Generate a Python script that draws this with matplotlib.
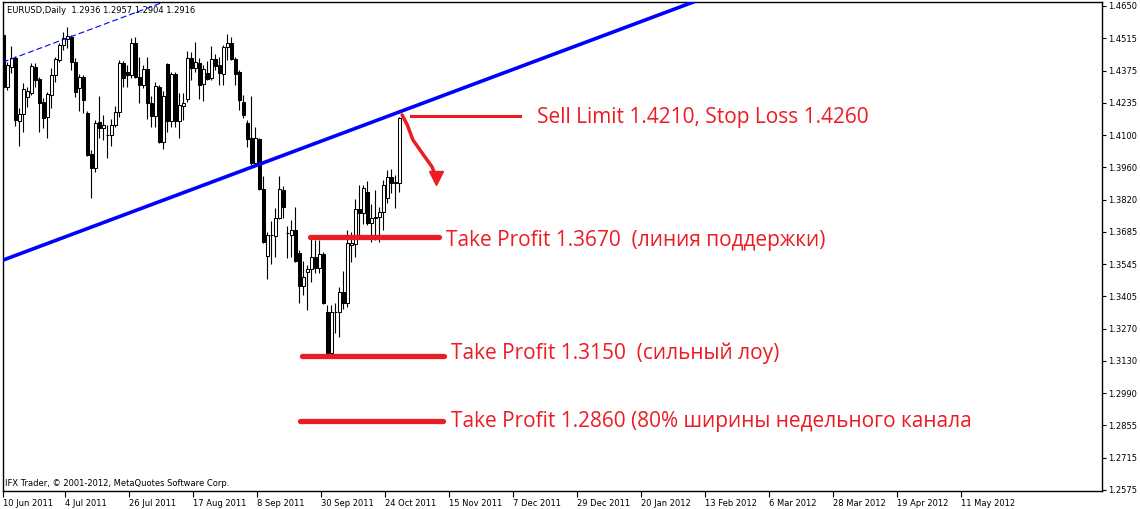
import matplotlib.pyplot as plt
import numpy as np

# EURUSD Daily, candles (10 Jun 2011 .. end Oct 2011)
opens = [1.4526, 1.4303, 1.4388, 1.4427, 1.4157, 1.4187, 1.4260, 1.4277, 1.4388, 1.4337,
         1.4238, 1.4174, 1.4268, 1.4354, 1.4418, 1.4483, 1.4508, 1.4517, 1.4410, 1.4298,
         1.4346, 1.4191, 1.4016, 1.3956, 1.4153, 1.4127, 1.4097, 1.4097, 1.4140, 1.4196,
         1.4406, 1.4367, 1.4354, 1.4491, 1.4346, 1.4311, 1.4380, 1.4234, 1.4178, 1.4303,
         1.4067, 1.4401, 1.4157, 1.4358, 1.4157, 1.4221, 1.4251, 1.4427, 1.4384, 1.4406,
         1.4316, 1.4363, 1.4341, 1.4423, 1.4397, 1.4358, 1.4474, 1.4491, 1.4423, 1.4367,
         1.4238, 1.4149, 1.4084, 1.3977, 1.4080, 1.3865, 1.3578, 1.3668, 1.3663, 1.3741,
         1.3861, 1.3676, 1.3668, 1.3689, 1.3590, 1.3449, 1.3509, 1.3522, 1.3573, 1.3526,
         1.3586, 1.3338, 1.3162, 1.3338, 1.3338, 1.3423, 1.3376, 1.3625, 1.3629, 1.3779,
         1.3762, 1.3852, 1.3719, 1.3741, 1.3745, 1.3767, 1.3827, 1.3917, 1.3891, 1.3891]
highs = [1.4543, 1.4410, 1.4478, 1.4436, 1.4213, 1.4320, 1.4303, 1.4406, 1.4406, 1.4346,
         1.4256, 1.4281, 1.4384, 1.4431, 1.4491, 1.4538, 1.4560, 1.4526, 1.4427, 1.4358,
         1.4354, 1.4200, 1.4033, 1.4161, 1.4264, 1.4183, 1.4140, 1.4166, 1.4221, 1.4418,
         1.4414, 1.4397, 1.4513, 1.4517, 1.4431, 1.4397, 1.4431, 1.4264, 1.4324, 1.4311,
         1.4286, 1.4406, 1.4367, 1.4367, 1.4277, 1.4277, 1.4457, 1.4453, 1.4496, 1.4427,
         1.4397, 1.4414, 1.4478, 1.4444, 1.4431, 1.4483, 1.4530, 1.4517, 1.4431, 1.4376,
         1.4268, 1.4161, 1.4264, 1.4131, 1.4084, 1.3921, 1.3681, 1.3728, 1.3784, 1.3921,
         1.3878, 1.3706, 1.3732, 1.3788, 1.3603, 1.3556, 1.3539, 1.3651, 1.3646, 1.3646,
         1.3595, 1.3368, 1.3368, 1.3376, 1.3445, 1.3514, 1.3689, 1.3681, 1.3822, 1.3883,
         1.3883, 1.3900, 1.3801, 1.3861, 1.3788, 1.3904, 1.3947, 1.3951, 1.3926, 1.4174]
lows = [1.4298, 1.4290, 1.4363, 1.4136, 1.4050, 1.4110, 1.4217, 1.4268, 1.4303, 1.4110,
        1.4127, 1.4084, 1.4213, 1.4324, 1.4410, 1.4461, 1.4470, 1.4376, 1.4260, 1.4200,
        1.4191, 1.4007, 1.3827, 1.3938, 1.4084, 1.4076, 1.3999, 1.4050, 1.4131, 1.4174,
        1.4303, 1.4303, 1.4341, 1.4341, 1.4234, 1.4298, 1.4166, 1.4131, 1.4131, 1.4063,
        1.4037, 1.4110, 1.4131, 1.4131, 1.4084, 1.4161, 1.4238, 1.4333, 1.4367, 1.4251,
        1.4243, 1.4333, 1.4333, 1.4376, 1.4311, 1.4311, 1.4418, 1.4418, 1.4311, 1.4204,
        1.4170, 1.4046, 1.3969, 1.3964, 1.3861, 1.3633, 1.3479, 1.3543, 1.3573, 1.3736,
        1.3741, 1.3569, 1.3573, 1.3552, 1.3376, 1.3411, 1.3346, 1.3466, 1.3505, 1.3505,
        1.3372, 1.3157, 1.3157, 1.3247, 1.3230, 1.3351, 1.3359, 1.3552, 1.3573, 1.3668,
        1.3715, 1.3711, 1.3638, 1.3646, 1.3638, 1.3689, 1.3805, 1.3848, 1.3784, 1.3852]
closes = [1.4303, 1.4397, 1.4427, 1.4161, 1.4187, 1.4294, 1.4286, 1.4393, 1.4333, 1.4234,
          1.4170, 1.4273, 1.4354, 1.4423, 1.4483, 1.4513, 1.4521, 1.4410, 1.4281, 1.4346,
          1.4247, 1.4012, 1.3956, 1.4149, 1.4127, 1.4140, 1.4097, 1.4140, 1.4196, 1.4406,
          1.4341, 1.4354, 1.4491, 1.4346, 1.4311, 1.4380, 1.4234, 1.4178, 1.4307, 1.4067,
          1.4264, 1.4157, 1.4358, 1.4157, 1.4226, 1.4234, 1.4427, 1.4384, 1.4410, 1.4311,
          1.4380, 1.4337, 1.4423, 1.4393, 1.4363, 1.4474, 1.4491, 1.4423, 1.4358, 1.4247,
          1.4183, 1.4080, 1.3977, 1.4084, 1.3865, 1.3638, 1.3668, 1.3668, 1.3741, 1.3865,
          1.3788, 1.3676, 1.3689, 1.3556, 1.3449, 1.3488, 1.3522, 1.3573, 1.3526, 1.3586,
          1.3376, 1.3162, 1.3338, 1.3338, 1.3423, 1.3376, 1.3633, 1.3633, 1.3779, 1.3762,
          1.3870, 1.3719, 1.3741, 1.3745, 1.3767, 1.3883, 1.3917, 1.3891, 1.3896, 1.4170]

date_labels = ['10 Jun 2011', '4 Jul 2011', '26 Jul 2011', '17 Aug 2011', '8 Sep 2011',
               '30 Sep 2011', '24 Oct 2011', '15 Nov 2011', '7 Dec 2011', '29 Dec 2011',
               '20 Jan 2012', '13 Feb 2012', '6 Mar 2012', '28 Mar 2012', '19 Apr 2012',
               '11 May 2012']
price_labels = ['1.4650', '1.4515', '1.4375', '1.4235', '1.4100', '1.3960', '1.3820',
                '1.3685', '1.3545', '1.3405', '1.3270', '1.3130', '1.2990', '1.2855',
                '1.2715', '1.2575']

# hand drawn objects (bar index, price)
trend_main = [(0, 1.3561), (172.5, 1.4667)]
trend_upper = [(0, 1.4410), (172.5, 1.5516)]
sell_line = ([101.9, 129.2], 1.4178)
tp_lines = [([76.7, 108.9], 1.3660), ([74.7, 110.2], 1.3149), ([74.2, 109.9], 1.2871)]
arrow_x = [99.7, 101.0, 102.4, 105.4, 107.2, 108.2]
arrow_y = [1.4183, 1.4140, 1.4076, 1.4003, 1.3960, 1.3912]

red = '#ec1c24'
x = np.arange(len(opens))
o = np.array(opens)
c = np.array(closes)

fig = plt.figure(figsize=(11.4, 5.09), dpi=100)
ax = fig.add_axes([2.7/1140, 18/509, 1099/1140, 489/509])

#%% candles
ax.vlines(x, lows, highs, color='black', lw=0.8, zorder=2)
body_lo = np.minimum(o, c)
body_h = np.maximum(np.abs(c - o), 0.00012)
cols = np.where(c >= o, 'white', 'black')
ax.bar(x, body_h, bottom=body_lo, width=0.62, color=cols, edgecolor='black', lw=0.75, zorder=3)

#%% trend lines
ax.axline(trend_main[0], trend_main[1], color='#0000ff', lw=2.6, zorder=4)
ax.axline(trend_upper[0], trend_upper[1], color='#0000ff', lw=0.8, dashes=(5.4, 2.7), zorder=4)

#%% red levels
ax.plot(sell_line[0], [sell_line[1]]*2, color=red, lw=2.2, zorder=5)
for xs, lvl in tp_lines:
    ax.plot(xs, [lvl, lvl], color=red, lw=3.8, solid_capstyle='round', zorder=5)
ax.plot(arrow_x, arrow_y, color=red, lw=2.5, solid_capstyle='round', zorder=5)
ax.plot(arrow_x[-1], arrow_y[-1], marker='v', ms=10, color=red, zorder=5)

tf = dict(color=red, fontsize=15, family='Open Sans', va='center')
ax.text(133.4, 1.4174, 'Sell Limit 1.4210, Stop Loss 1.4260', **tf)
ax.text(110.7, 1.3646, 'Take Profit 1.3670  (линия поддержки)', **tf)
ax.text(111.9, 1.3162, 'Take Profit 1.3150  (сильный лоу)', **tf)
ax.text(111.9, 1.2870, 'Take Profit 1.2860 (80% ширины недельного канала', **tf)

ax.text(0.004, 0.982, 'EURUSD,Daily  1.2936 1.2957 1.2904 1.2916', transform=ax.transAxes,
        fontsize=6, va='center', family='DejaVu Sans')
ax.text(0.002, 0.016, 'IFX Trader, © 2001-2012, MetaQuotes Software Corp.', transform=ax.transAxes,
        fontsize=6, va='center', family='DejaVu Sans')

#%% axes
ax.set_xlim(-0.15, 274.6)
ax.set_ylim(1.25707, 1.46671)
date_pos = [-0.15] + [16*k - 0.5 for k in range(1, len(date_labels))]
ax.set_xticks(date_pos)
ax.set_xticklabels(date_labels, ha='left', fontsize=6)
ax.set_yticks(np.linspace(1.4650, 1.2575, len(price_labels)))
ax.set_yticklabels(price_labels, fontsize=6)
ax.yaxis.tick_right()
ax.tick_params(axis='y', direction='out', length=3, width=0.8, pad=1.5)
ax.tick_params(axis='x', direction='out', length=4, width=0.8, pad=1.5)
for s in ax.spines.values():
    s.set_linewidth(1.0)

fig.savefig('out.png', dpi=100)
